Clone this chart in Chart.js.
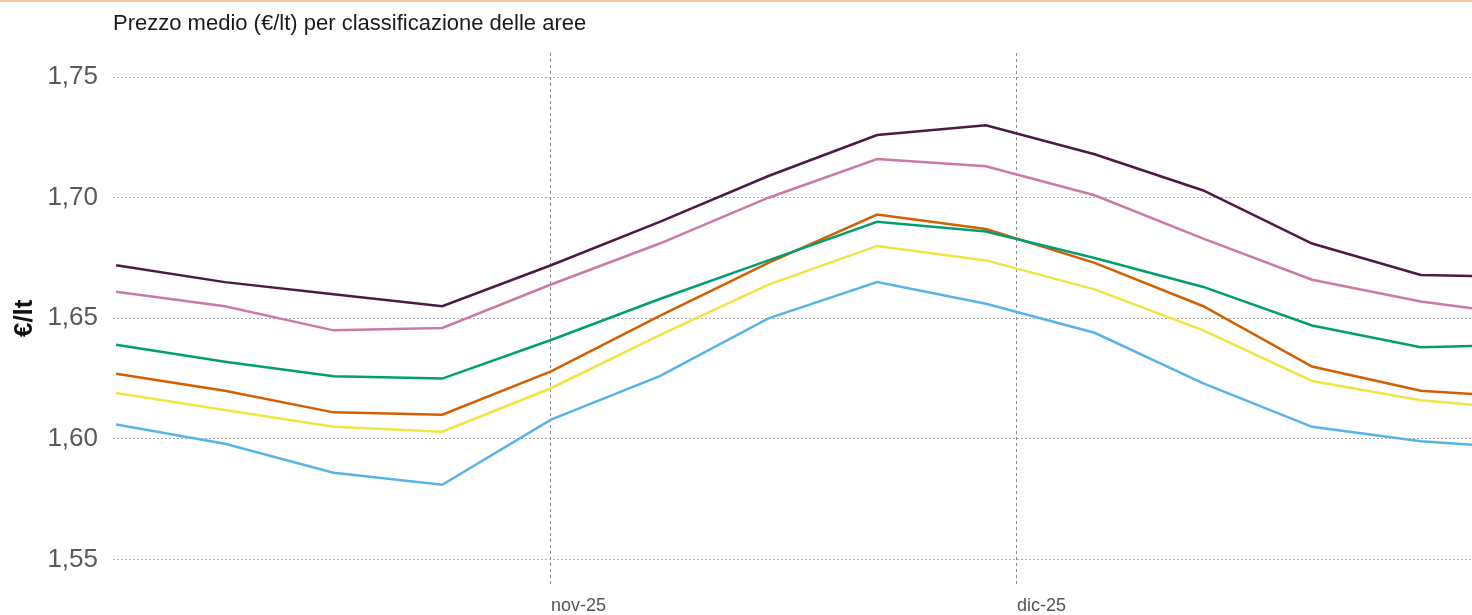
<!DOCTYPE html>
<html>
<head>
<meta charset="utf-8">
<script src="https://cdn.jsdelivr.net/npm/chart.js@4.4.1/dist/chart.umd.min.js"></script>
<style>
    body { margin: 0; background: #fff; }
    #wrap { position: relative; width: 1472px; height: 615px; }
    #topline { position: absolute; left: 0; top: 0; width: 1472px; height: 2px; background: #f8c6a0; }
</style>
</head>
<body>
<div id="wrap">
    <canvas id="canvass" width="1472" height="615"></canvas>
    <div id="topline"></div>
</div>
<script>
// weekly observations (the last one falls outside the visible window)
var dates = ['2025-10-04', '2025-10-11', '2025-10-18', '2025-10-25', '2025-11-01', '2025-11-08', '2025-11-15',
             '2025-11-22', '2025-11-29', '2025-12-06', '2025-12-13', '2025-12-20', '2025-12-27', '2026-01-03'];

var seriesNames = ['Classe 1', 'Classe 2', 'Classe 3', 'Classe 4', 'Classe 5', 'Classe 6'];
var serie1 = [1.672, 1.665, 1.660, 1.655, 1.672, 1.690, 1.709, 1.726, 1.730, 1.718, 1.703, 1.681, 1.668, 1.667];
var serie2 = [1.661, 1.655, 1.645, 1.646, 1.664, 1.681, 1.700, 1.716, 1.713, 1.701, 1.683, 1.666, 1.657, 1.651];
var serie3 = [1.639, 1.632, 1.626, 1.625, 1.641, 1.658, 1.674, 1.690, 1.686, 1.675, 1.663, 1.647, 1.638, 1.639];
var serie4 = [1.627, 1.620, 1.611, 1.610, 1.628, 1.651, 1.673, 1.693, 1.687, 1.673, 1.655, 1.630, 1.620, 1.617];
var serie5 = [1.619, 1.612, 1.605, 1.603, 1.621, 1.643, 1.664, 1.680, 1.674, 1.662, 1.645, 1.624, 1.616, 1.612];
var serie6 = [1.606, 1.598, 1.586, 1.581, 1.608, 1.626, 1.650, 1.665, 1.656, 1.644, 1.623, 1.605, 1.599, 1.596];
var colors = ['#4a1a45', '#cc79a7', '#009e73', '#d55e00', '#f0e442', '#56b4e9'];

// month ticks on the x axis
var monthDates = ['2025-11-01', '2025-12-01'];
var monthLabels = ['nov-25', 'dic-25'];
var yTicks = [1.55, 1.60, 1.65, 1.70, 1.75];

var origin = Date.parse('2025-10-01');
function dayOf(d) {
    return (Date.parse(d) - origin) / 86400000;
}

Chart.defaults.font.family = "'Liberation Sans', Arial, sans-serif";

var allSeries = [serie1, serie2, serie3, serie4, serie5, serie6];
var datasets = [];
for (var i = 0; i < allSeries.length; i++) {
    var pts = [];
    for (var j = 0; j < dates.length; j++) {
        pts.push({ x: dayOf(dates[j]), y: allSeries[i][j] });
    }
    datasets.push({
        label: seriesNames[i],
        data: pts,
        borderColor: colors[i],
        backgroundColor: colors[i],
        borderWidth: 2.5,
        pointRadius: 0,
        tension: 0,
        fill: false
    });
}

try {
    var ctx = document.getElementById('canvass').getContext('2d');
    var myChart = new Chart(ctx, {
        type: 'line',
        data: { datasets: datasets },
        options: {
            responsive: false,
            animation: false,
            devicePixelRatio: 1,
            layout: { padding: { left: 5, right: 0, top: 0, bottom: 0 } },
            plugins: {
                legend: { display: false },
                tooltip: { enabled: false },
                title: {
                    display: true,
                    fullSize: false,
                    align: 'start',
                    text: 'Prezzo medio (€/lt) per classificazione delle aree',
                    color: '#1a1a1a',
                    font: { size: 22, weight: 'normal' },
                    padding: { top: 11, bottom: 15.6 }
                }
            },
            scales: {
                x: {
                    type: 'linear',
                    min: 2.8,
                    max: 90.3,
                    afterBuildTicks: function (axis) {
                        axis.ticks = monthDates.map(function (d) { return { value: dayOf(d) }; });
                    },
                    afterFit: function (axis) { axis.height = 31.4; },
                    ticks: {
                        align: 'start',
                        padding: 12,
                        color: '#555',
                        font: { size: 18 },
                        maxRotation: 0,
                        callback: function (value, index) { return monthLabels[index]; }
                    },
                    grid: { color: '#8a8a8a', lineWidth: 1, drawTicks: false },
                    border: { display: false, dash: [3, 3] }
                },
                y: {
                    min: 1.54,
                    max: 1.76,
                    afterBuildTicks: function (axis) {
                        axis.ticks = yTicks.map(function (v) { return { value: v }; });
                    },
                    afterFit: function (axis) { axis.width = 108; },
                    ticks: {
                        padding: 15,
                        color: '#595959',
                        font: { size: 26 },
                        callback: function (value) { return value.toFixed(2).replace('.', ','); }
                    },
                    title: {
                        display: true,
                        text: '€/lt',
                        color: '#111',
                        font: { size: 26, weight: 'bold' },
                        padding: { top: 4, bottom: 7 }
                    },
                    grid: { color: '#aaaaaa', lineWidth: 1, drawTicks: false },
                    border: { display: false, dash: [2, 2] }
                }
            }
        }
    });
} catch (e) {
    console.log('We have encountered an error: ' + e);
}
</script>
</body>
</html>
